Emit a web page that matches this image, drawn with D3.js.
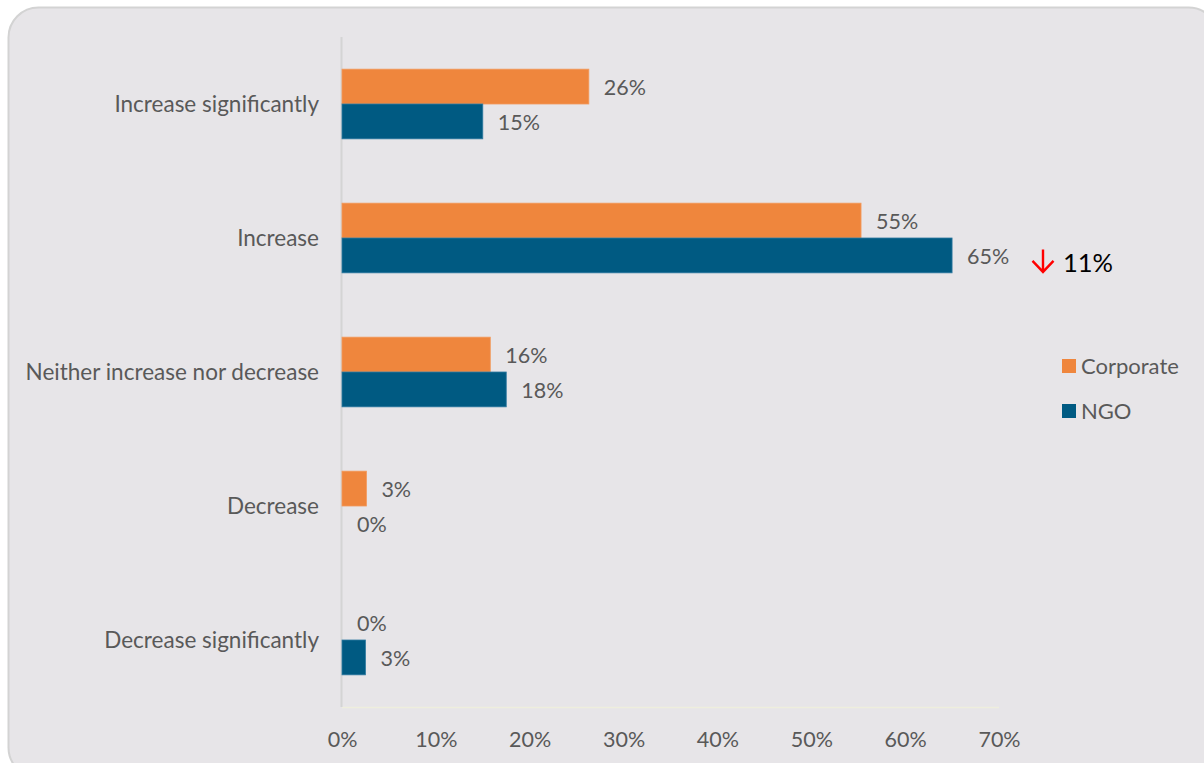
<!DOCTYPE html>
<html>
<head>
<meta charset="utf-8">
<script src="https://cdn.jsdelivr.net/npm/d3@7"></script>
<style>
html,body{margin:0;padding:0;background:#fff;}
svg{display:block;}
</style>
</head>
<body>
<svg id="chart" width="1204" height="763"></svg>
<script>
const categories = ["Increase significantly","Increase","Neither increase nor decrease","Decrease","Decrease significantly"];
const seriesNames = ["Corporate","NGO"];
const corporate = [26.3, 55.3, 15.8, 2.6, 0];
const ngo = [15, 65, 17.5, 0, 2.5];
const corporateLabels = ["26%","55%","16%","3%","0%"];
const ngoLabels = ["15%","65%","18%","0%","3%"];
const xTicks = [0,10,20,30,40,50,60,70];
const annotation = {category:"Increase", text:"11%"};
const colors = {Corporate:"#EF863D", NGO:"#005A82"};

(function(){
const FONT = "Lato, 'Open Sans', sans-serif";
const svg = d3.select("#chart");
svg.append("rect").attr("x",8.5).attr("y",7.5).attr("width",1210).attr("height",770)
  .attr("rx",30).attr("fill","#E7E5E8").attr("stroke","#D3D3D3").attr("stroke-width",2);

const mLeft = 342, mRight = 999, mTop = 37, mBottom = 707;
const x = d3.scaleLinear().domain([0,70]).range([mLeft,mRight]);
const y0 = d3.scaleBand().domain(categories).range([mTop,mBottom]).paddingInner(0.48).paddingOuter(0.24);
const y1 = d3.scaleBand().domain(seriesNames).range([0,y0.bandwidth()]);

svg.append("line").attr("x1",mLeft).attr("x2",mRight).attr("y1",mBottom+0.5).attr("y2",mBottom+0.5)
  .attr("stroke","#EEEEDD").attr("stroke-width",1.5);
svg.append("line").attr("x1",mLeft-0.5).attr("x2",mLeft-0.5).attr("y1",mTop).attr("y2",mBottom)
  .attr("stroke","#D4D4D4").attr("stroke-width",2);

const xAxis = d3.axisBottom(x).tickValues(xTicks).tickFormat(d=>d+"%").tickSize(0).tickPadding(0);
const gx = svg.append("g").attr("transform",`translate(0,${mBottom})`).call(xAxis);
gx.select(".domain").remove();
gx.selectAll("text").attr("dy",null).attr("y",40).attr("font-family",FONT).attr("font-size",21.5).attr("fill","#595959");

const yAxis = d3.axisLeft(y0).tickSize(0).tickPadding(0);
const gy = svg.append("g").attr("transform",`translate(${mLeft-23},0)`).call(yAxis);
gy.select(".domain").remove();
gy.selectAll("text").attr("font-family",FONT).attr("font-size",22.5).attr("fill","#595959").attr("dy","0.35em");

const data = [];
categories.forEach((c,i)=>{
  data.push({cat:c, s:"Corporate", v:corporate[i], label:corporateLabels[i]});
  data.push({cat:c, s:"NGO", v:ngo[i], label:ngoLabels[i]});
});

svg.append("g").selectAll("rect").data(data.filter(d=>d.v>0)).join("rect")
  .attr("x",mLeft).attr("y",d=>y0(d.cat)+y1(d.s))
  .attr("width",d=>x(d.v)-mLeft).attr("height",y1.bandwidth())
  .attr("fill",d=>colors[d.s])
  .attr("stroke",d=>d.s==="NGO"?"#2F7AA0":"#F39A5C").attr("stroke-width",0.8);

svg.append("g").selectAll("text").data(data).join("text")
  .attr("x",d=>x(d.v)+15).attr("y",d=>y0(d.cat)+y1(d.s)+y1.bandwidth()/2)
  .attr("dy","0.38em").attr("font-family",FONT).attr("font-size",21.5).attr("fill","#595959")
  .text(d=>d.label);

const ay = y0(annotation.category)+y1("NGO")+y1.bandwidth()/2 + 7;
const ag = svg.append("g").attr("transform",`translate(1043,${ay})`);
ag.append("path").attr("d","M0,-13 L0,9 M-10.5,-1.5 L0,9.5 L10.5,-1.5").attr("fill","none").attr("stroke","#FF0000").attr("stroke-width",2.4);
svg.append("text").attr("x",1063).attr("y",ay).attr("dy","0.36em").attr("font-family",FONT).attr("font-size",25.5).attr("fill","#000").text(annotation.text);

const lg = svg.append("g").selectAll("g").data(seriesNames).join("g")
  .attr("transform",(d,i)=>`translate(1062,${359+i*45})`);
lg.append("rect").attr("width",14).attr("height",14).attr("fill",d=>colors[d]);
lg.append("text").attr("x",19).attr("y",7).attr("dy","0.36em").attr("font-family",FONT).attr("font-size",22).attr("fill","#595959").text(d=>d);
})();
</script>
</body>
</html>
